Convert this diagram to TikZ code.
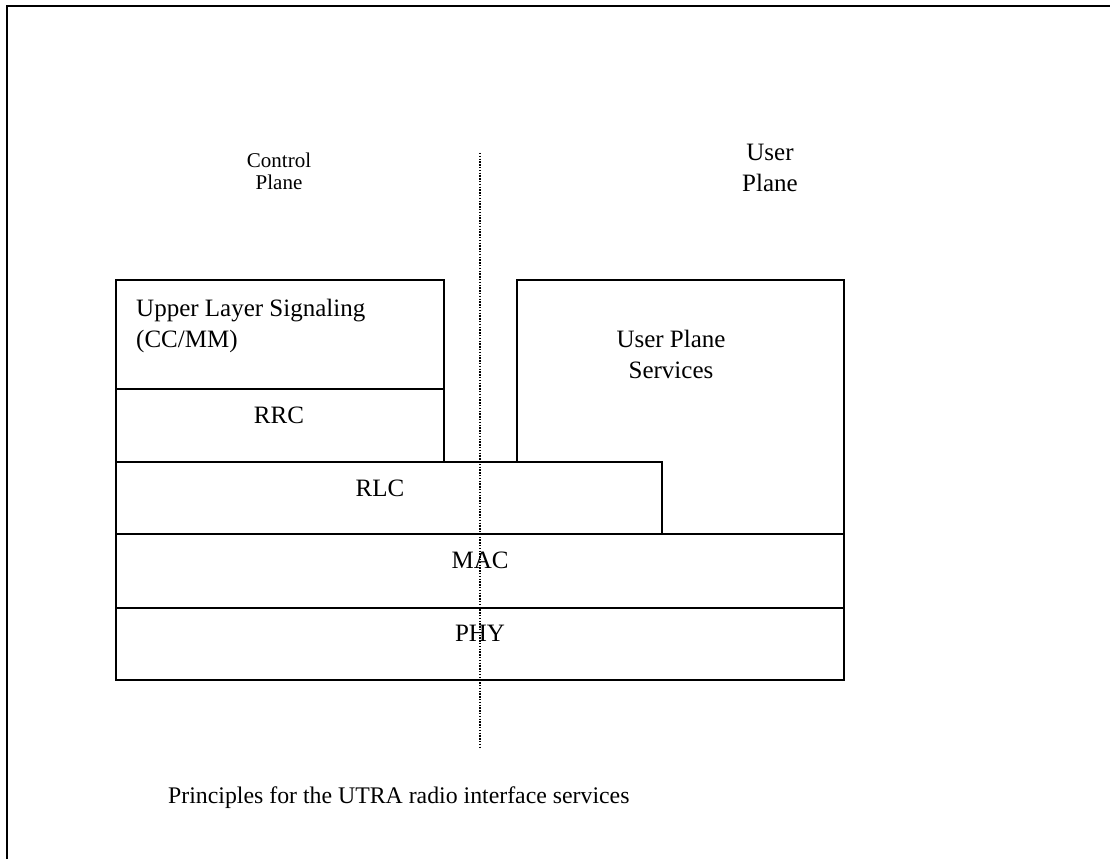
\documentclass[tikz,border=0pt]{standalone}
\usepackage{fontspec}
\setmainfont{Liberation Serif}
\begin{document}
\begin{tikzpicture}[x=1pt,y=-1pt,
  layerbox/.style={draw, line width=1.8pt, inner sep=0pt, anchor=north west},
  lbl/.style={inner sep=0pt, font=\fontsize{25}{31}\selectfont},
  small/.style={inner sep=0pt, font=\fontsize{21}{22}\selectfont, align=center},
  sep/.style={line width=1.2pt, dash pattern=on 1.4pt off 1.4pt}]
\useasboundingbox (0,0) rectangle (1110,859);
% frame (top and left edges only)
\coordinate (ftl) at (7,6);
\coordinate (ftr) at (1110,6);
\coordinate (fbl) at (7,859);
\draw[line width=2pt] (fbl) -- (ftl) -- (ftr);
% boxes
\node[layerbox, minimum width=327pt, minimum height=254pt] (ups) at (516,279) {};
\node[layerbox, minimum width=328pt, minimum height=109pt] (uls) at (115,279) {};
\node[layerbox, minimum width=328pt, minimum height=73pt] (rrc) at (115,388) {};
\node[layerbox, fill=white, minimum width=546pt, minimum height=72pt] (rlc) at (115,461) {};
\node[layerbox, minimum width=728pt, minimum height=74pt] (mac) at (115,533) {};
\node[layerbox, minimum width=728pt, minimum height=72pt] (phy) at (115,607) {};
% labels (base anchor of a multi-line node = baseline of its last line)
\node[lbl, anchor=base west, align=left] (ulsT) at (136,347) {Upper Layer Signaling\\(CC/MM)};
\node[lbl, anchor=base] (rrcT) at (279,423) {RRC};
\node[lbl, anchor=base] (rlcT) at (380,496) {RLC};
\node[lbl, anchor=base] (macT) at (480,568) {MAC};
\node[lbl, anchor=base] (phyT) at (480,641) {PHY};
\node[lbl, anchor=base, align=center] (upsT) at (671,378) {User Plane\\Services};
\node[small, anchor=base] (cpT) at (279,189) {Control\\Plane};
\node[lbl, anchor=base, align=center] (upT) at (770,191) {User\\Plane};
\node[lbl, anchor=base west, font=\fontsize{23.8}{29}\selectfont] (cap) at (168,803) {Principles for the UTRA radio interface services};
% separator
\coordinate (sepTop) at (480,153);
\coordinate (sepBot) at (480,748);
\draw[sep] (sepTop) -- (sepBot);
\end{tikzpicture}
\end{document}
